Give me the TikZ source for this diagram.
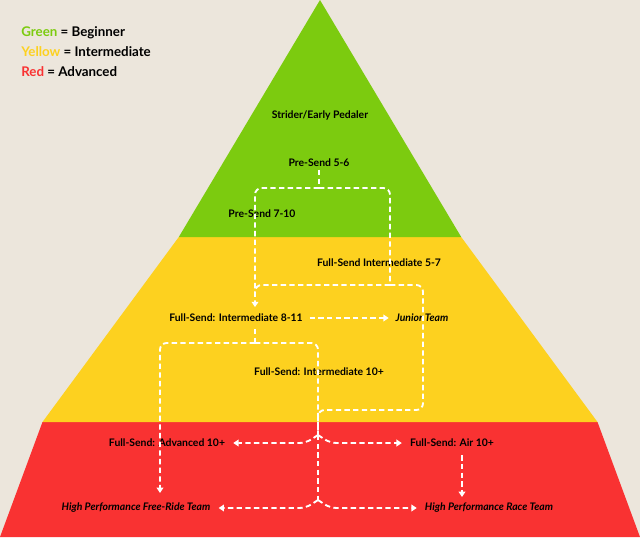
\documentclass[tikz,border=0pt]{standalone}
\usepackage{fontspec}
\setmainfont{Lato}
\usetikzlibrary{arrows.meta}
\definecolor{bgbeige}{HTML}{ECE6DC}
\definecolor{lvlgreen}{HTML}{7CCB0F}
\definecolor{lvlyellow}{HTML}{FDD11F}
\definecolor{lvlred}{HTML}{F93232}
\tikzset{
  lbl/.style={font=\fontsize{7.8}{9}\selectfont\bfseries, inner sep=2pt},
  team/.style={lbl, font=\fontsize{7.8}{9}\selectfont\bfseries\itshape},
  trail/.style={white, line width=1.4pt, dash pattern=on 4pt off 2.5pt, rounded corners=5},
  trailarr/.style={trail, -{Triangle[width=5pt,length=4pt]}},
}
\begin{document}
\begin{tikzpicture}[x=0.75pt,y=-0.75pt]
\fill[bgbeige] (0,0) rectangle (640,537);
\useasboundingbox (0,0) rectangle (640,537);
% levels of the pyramid
\fill[lvlred] (0,537) -- (42.5,422) -- (597.5,422) -- (640,537) -- cycle;
\fill[lvlyellow] (42.5,422) -- (178.8,237) -- (461.2,237) -- (597.5,422) -- cycle;
\fill[lvlgreen] (178.8,237) -- (320,0) -- (461.2,237) -- cycle;

% legend
\node[anchor=west, font=\fontsize{10}{12}\selectfont\bfseries, inner sep=0pt] (legG) at (21,33) {\textcolor{lvlgreen}{Green} = Beginner};
\node[anchor=west, font=\fontsize{10}{12}\selectfont\bfseries, inner sep=0pt] (legY) at (21,52) {\textcolor{lvlyellow}{Yellow} = Intermediate};
\node[anchor=west, font=\fontsize{10}{12}\selectfont\bfseries, inner sep=0pt] (legR) at (21,72) {\textcolor{lvlred}{Red} = Advanced};

% programs
\node[lbl] (strider) at (320,115) {Strider/Early Pedaler};
\node[lbl] (pre56) at (319,163) {Pre-Send 5-6};
\node[lbl] (pre710) at (262,214) {Pre-Send 7-10};
\node[lbl] (fs57) at (379,263) {Full-Send Intermediate 5-7};
\node[lbl, inner sep=5pt] (fs811) at (236,318) {Full-Send: Intermediate 8-11};
\node[team, inner sep=5pt] (junior) at (422,318) {Junior Team};
\node[lbl] (fs10) at (319,372) {Full-Send: Intermediate 10+};
\node[lbl, inner sep=6pt] (adv) at (167,443) {Full-Send: Advanced 10+};
\node[lbl, inner sep=6pt] (air) at (452,443) {Full-Send: Air 10+};
\node[team, inner sep=6pt] (freeride) at (136,508) {High Performance Free-Ride Team};
\node[team, inner sep=6pt] (race) at (489,508) {High Performance Race Team};

% forks
\coordinate (f1) at (319,188);
\coordinate (f2) at (390,285);
\coordinate (f3) at (255,343);
\coordinate (f4) at (318,435);
\coordinate (f5) at (318,500);
\coordinate (xl) at (255,0);
\coordinate (xa) at (462,0);

% connectors
\draw[trail] (pre56.south) -- (f1);
\draw[trailarr] (f1) -- (255,188) -- (fs811.north -| xl);
\draw[trail] (f1) -- (390,188) -- (f2);
\draw[trail] (f2) -- (255,285) -- (255,293);
\draw[trail] (f2) -- (423,285) -- (423,410) -- (318,410) -- (f4);
\draw[trail] (fs811.south -| xl) -- (f3);
\draw[trailarr] (f3) -- (160,343) -- (160,493);
\draw[trail] (f3) -- (318,343) -- (f4);
\draw[trail] (f4) -- (f5);
\draw[trailarr] (fs811.east) -- (junior.west);
\draw[trailarr] (f4) -- (306,443) -- (adv.east);
\draw[trailarr] (f4) -- (330,443) -- (air.west);
\draw[trailarr] (air.south -| xa) -- (462,497);
\draw[trailarr] (f5) -- (306,508) -- (freeride.east);
\draw[trailarr] (f5) -- (330,508) -- (race.west);
\end{tikzpicture}
\end{document}
